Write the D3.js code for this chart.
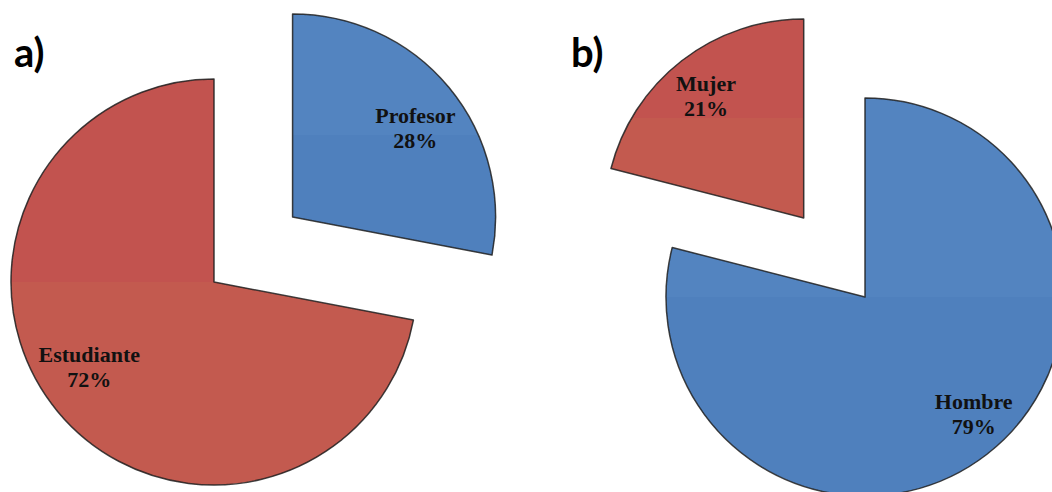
<!DOCTYPE html>
<html>
<head>
<meta charset="utf-8">
<script src="https://cdn.jsdelivr.net/npm/d3@7"></script>
<style>
  html, body { margin: 0; padding: 0; background: #fff; }
  svg { display: block; }
</style>
</head>
<body>
<svg id="chart" width="1052" height="492"></svg>
<script>
// Panel a) – role of respondents
const rolCategorias = ["Profesor", "Estudiante"];
const rolValores = [28, 72];
const rolSeparada = ["Profesor"];

// Panel b) – gender of respondents
const sexoCategorias = ["Hombre", "Mujer"];
const sexoValores = [79, 21];
const sexoSeparada = ["Mujer"];

const colores = { Profesor: "blue", Estudiante: "red", Hombre: "blue", Mujer: "red" };
// small nudges of the in-slice labels away from the plain centroid
const ajusteEtiqueta = {
  Profesor: [7, 3], Estudiante: [-9, -15], Mujer: [-5, -6], Hombre: [16, -6]
};

const svg = d3.select("#chart");
const defs = svg.append("defs");

// Two-tone fills with a slightly lighter upper half
const tonos = {
  red:  { top: "#c2534f", bottom: "#c35a4f" },
  blue: { top: "#5384c0", bottom: "#4f80bd" }
};
Object.entries(tonos).forEach(([k, t]) => {
  const g = defs.append("linearGradient")
    .attr("id", "grad-" + k).attr("x1", 0).attr("y1", 0).attr("x2", 0).attr("y2", 1);
  g.append("stop").attr("offset", "0%").attr("stop-color", t.top);
  g.append("stop").attr("offset", "50%").attr("stop-color", t.top);
  g.append("stop").attr("offset", "50%").attr("stop-color", t.bottom);
  g.append("stop").attr("offset", "100%").attr("stop-color", t.bottom);
});

// Soft dark rim around each slice
const f = defs.append("filter").attr("id", "rim")
  .attr("x", "-5%").attr("y", "-5%").attr("width", "110%").attr("height", "110%");
f.append("feGaussianBlur").attr("in", "SourceGraphic").attr("stdDeviation", 0.6);

function drawPie(cfg) {
  const pie = d3.pie().sort(null).value(d => d.v);
  const data = cfg.cats.map((c, i) => ({ c, v: cfg.vals[i] }));
  const arcs = pie(data);
  const arc = d3.arc().innerRadius(0).outerRadius(cfg.r);
  const lr = cfg.r * cfg.labelFrac;
  const labelArc = d3.arc().innerRadius(lr).outerRadius(lr);

  const g = svg.append("g").attr("transform", `translate(${cfg.cx},${cfg.cy})`);

  const slices = g.selectAll("g.slice").data(arcs).join("g")
    .attr("class", "slice")
    .attr("transform", d => {
      if (!cfg.exploded.includes(d.data.c)) return null;
      const mid = (d.startAngle + d.endAngle) / 2;
      return `translate(${Math.sin(mid) * cfg.offset},${-Math.cos(mid) * cfg.offset})`;
    });

  slices.append("path")
    .attr("d", arc)
    .attr("fill", d => `url(#grad-${colores[d.data.c]})`);

  slices.append("path")
    .attr("d", arc)
    .attr("fill", "none")
    .attr("stroke", "#1e1e1e")
    .attr("stroke-opacity", 0.85)
    .attr("stroke-width", 1.5)
    .attr("stroke-linejoin", "round")
    .attr("filter", "url(#rim)");

  const total = d3.sum(cfg.vals);
  const lab = slices.append("text")
    .attr("transform", d => {
      const [x, y] = labelArc.centroid(d);
      const [sx, sy] = ajusteEtiqueta[d.data.c];
      return `translate(${x + sx},${y + sy})`;
    })
    .attr("text-anchor", "middle")
    .attr("font-family", "'Liberation Serif', 'Times New Roman', serif")
    .attr("font-weight", "bold")
    .attr("font-size", 22)
    .attr("fill", "#111");
  lab.append("tspan").attr("x", 0).attr("dy", "-0.05em").text(d => d.data.c);
  lab.append("tspan").attr("x", 0).attr("dy", 25)
    .text(d => Math.round(d.data.v / total * 100) + "%");

  svg.append("text")
    .attr("x", cfg.tag[0]).attr("y", cfg.tag[1])
    .attr("font-family", "Lato, 'Open Sans', sans-serif")
    .attr("font-weight", "bold")
    .attr("font-size", 40)
    .attr("fill", "#000")
    .text(cfg.tagText);
}

drawPie({
  cats: rolCategorias, vals: rolValores, exploded: rolSeparada,
  cx: 214, cy: 282, r: 203, offset: 102, labelFrac: 0.74,
  tag: [14, 67], tagText: "a)"
});

drawPie({
  cats: sexoCategorias, vals: sexoValores, exploded: sexoSeparada,
  cx: 865, cy: 297, r: 199, offset: 100, labelFrac: 0.76,
  tag: [571, 67], tagText: "b)"
});
</script>
</body>
</html>
